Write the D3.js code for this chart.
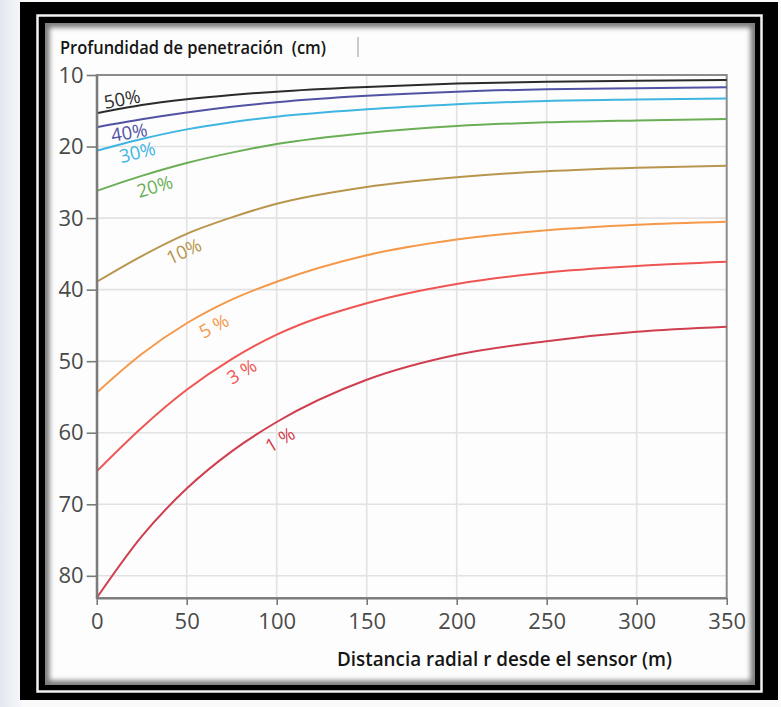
<!DOCTYPE html>
<html>
<head>
<meta charset="utf-8">
<script src="https://cdn.jsdelivr.net/npm/d3@7"></script>
<style>
	html, body { margin: 0; padding: 0; background: #fff; }
	svg { display: block; }
</style>
</head>
<body>
<svg id="chart" width="781" height="707"></svg>
<script>
'use strict';

// distancia radial r (m)
var distances = [0, 25, 50, 75, 100, 150, 200, 250, 300, 350];
// profundidad (cm) por contenido de humedad
var depth50 = [15.35, 14.2, 13.4, 12.8, 12.33, 11.68, 11.2, 10.93, 10.8, 10.7];
var depth40 = [17.3, 16.2, 15.25, 14.45, 13.8, 12.9, 12.33, 12.0, 11.85, 11.72];
var depth30 = [20.6, 18.95, 17.6, 16.6, 15.82, 14.8, 14.1, 13.62, 13.43, 13.3];
var depth20 = [26.2, 24.1, 22.3, 20.85, 19.65, 18.1, 17.13, 16.62, 16.35, 16.15];
var depth10 = [38.9, 35.3, 32.2, 29.9, 28.0, 25.65, 24.3, 23.45, 22.95, 22.67];
var depth5 = [54.4, 49.0, 44.7, 41.4, 38.9, 35.2, 33.0, 31.7, 30.93, 30.5];
var depth3 = [65.4, 59.3, 54.0, 49.7, 46.3, 41.9, 39.2, 37.6, 36.7, 36.1];
var depth1 = [83.1, 74.5, 67.8, 62.6, 58.5, 52.6, 49.1, 47.2, 45.9, 45.2];

var seriesNames = ['50%', '40%', '30%', '20%', '10%', '5 %', '3 %', '1 %'];
var seriesValues = [depth50, depth40, depth30, depth20, depth10, depth5, depth3, depth1];
// where along r each curve label sits (m)
var labelAt = [15, 17, 21, 30, 45, 61, 76, 97];

var xTicks = [0, 50, 100, 150, 200, 250, 300, 350];
var yTicks = [10, 20, 30, 40, 50, 60, 70, 80];

var colors = ['#2b2b2b', '#5252a4', '#3fb6e2', '#6aaf55', '#b8964e', '#f4994a', '#ef5552', '#cf3f50'];
// perpendicular label offset, px (negative = above the line)
var labelOffset = [-9, 11, 12, 14, 15, 16, 16, 17];

var svg = d3.select('#chart');
var defs = svg.append('defs');

// page background + double black frame
var bg = defs.append('linearGradient').attr('id', 'bg').attr('x1', 0).attr('x2', 1);
bg.append('stop').attr('offset', '0').attr('stop-color', '#e4e8ee');
bg.append('stop').attr('offset', '1').attr('stop-color', '#f6f7f9');
svg.append('rect').attr('width', 781).attr('height', 707).attr('fill', '#fafafa');
svg.append('rect').attr('width', 22).attr('height', 707).attr('fill', 'url(#bg)');

svg.append('rect')
	.attr('x', 20).attr('y', 2).attr('width', 758).attr('height', 698)
	.attr('fill', '#000');
svg.append('rect')
	.attr('x', 37.5).attr('y', 15.5).attr('width', 724).attr('height', 676)
	.attr('fill', 'none').attr('stroke', '#f2f2f2').attr('stroke-width', 2.5);

var blur = defs.append('filter').attr('id', 'blur');
blur.append('feGaussianBlur').attr('stdDeviation', 2.5);
defs.append('clipPath').attr('id', 'panelclip')
	.append('rect').attr('x', 45).attr('y', 23).attr('width', 710).attr('height', 662);

svg.append('rect')
	.attr('x', 45).attr('y', 23).attr('width', 710).attr('height', 662)
	.attr('fill', '#fdfdfd');
svg.append('g').attr('clip-path', 'url(#panelclip)')
	.append('rect')
		.attr('x', 45).attr('y', 23).attr('width', 710).attr('height', 662)
		.attr('fill', 'none').attr('stroke', '#7a7a7a').attr('stroke-width', 9)
		.attr('filter', 'url(#blur)');

// little title box edge
svg.append('line')
	.attr('x1', 358).attr('x2', 358).attr('y1', 37).attr('y2', 57)
	.attr('stroke', '#aaa').attr('stroke-width', 1.2);

var x = d3.scaleLinear().domain([0, 350]).range([96.7, 726.7]);
var y = d3.scaleLinear().domain([10, 83.1]).range([75, 598]);

// grid
var grid = svg.append('g');
grid.selectAll('line.vg').data(xTicks.slice(1, -1)).enter()
	.append('line')
		.attr('x1', function(d) { return x(d); })
		.attr('x2', function(d) { return x(d); })
		.attr('y1', y(10)).attr('y2', y(83.1))
		.attr('stroke', '#e2e2e2').attr('stroke-width', 1.6);
grid.selectAll('line.hg').data(yTicks.slice(1)).enter()
	.append('line')
		.attr('x1', x(0)).attr('x2', x(350))
		.attr('y1', function(d) { return y(d); })
		.attr('y2', function(d) { return y(d); })
		.attr('stroke', '#e2e2e2').attr('stroke-width', 1.6);

svg.append('rect')
	.attr('x', x(0)).attr('y', y(10))
	.attr('width', x(350) - x(0)).attr('height', y(83.1) - y(10))
	.attr('fill', 'none').attr('stroke', '#8c8c8c').attr('stroke-width', 2);

// curves
var line = d3.line()
	.x(function(d) { return x(d[0]); })
	.y(function(d) { return y(d[1]); })
	.curve(d3.curveMonotoneX);

var paths = svg.append('g').selectAll('path.curve')
	.data(seriesValues).enter()
	.append('path')
		.attr('class', 'curve')
		.attr('d', function(vals) {
			return line(distances.map(function(r, i) { return [r, vals[i]]; }));
		})
		.attr('fill', 'none')
		.attr('stroke', function(d, i) { return colors[i]; })
		.attr('stroke-width', 2);

// point on a path for a given screen x
function pointAt(node, px) {
	var lo = 0, hi = node.getTotalLength();
	for (var k = 0; k < 40; k++) {
		var mid = (lo + hi) / 2;
		if (node.getPointAtLength(mid).x < px) lo = mid; else hi = mid;
	}
	return node.getPointAtLength(lo);
}

paths.each(function(vals, i) {
	var px = x(labelAt[i]);
	var p = pointAt(this, px);
	var p0 = pointAt(this, px - 6), p1 = pointAt(this, px + 6);
	var ang = Math.atan2(p1.y - p0.y, p1.x - p0.x) * 180 / Math.PI;
	svg.append('text')
		.attr('transform', 'translate(' + p.x + ',' + p.y + ') rotate(' + ang + ')')
		.attr('y', labelOffset[i])
		.attr('dy', '0.35em')
		.attr('text-anchor', 'middle')
		.attr('font-family', '"Open Sans", sans-serif')
		.attr('font-size', 18.5)
		.attr('fill', colors[i])
		.text(seriesNames[i]);
});

// axes
var yAxis = svg.append('g')
	.attr('transform', 'translate(' + x(0) + ',0)')
	.call(d3.axisLeft(y).tickValues(yTicks).tickSize(10).tickPadding(3).tickSizeOuter(0));
var xAxis = svg.append('g')
	.attr('transform', 'translate(0,' + y(83.1) + ')')
	.call(d3.axisBottom(x).tickValues(xTicks).tickSize(7).tickPadding(8).tickSizeOuter(0));

[yAxis, xAxis].forEach(function(ax) {
	ax.select('.domain').attr('stroke', '#7a7a7a').attr('stroke-width', 2.2);
	ax.selectAll('.tick line').attr('stroke', '#7a7a7a').attr('stroke-width', 1.6);
	ax.selectAll('.tick text')
		.attr('font-family', '"Open Sans", sans-serif')
		.attr('font-size', 22)
		.attr('fill', '#4a4a4a');
});

// titles
svg.append('text')
	.attr('x', 60).attr('y', 53.5)
	.attr('font-family', '"Open Sans", sans-serif')
	.attr('font-weight', 600)
	.attr('font-size', 17.5)
	.attr('textLength', 266)
	.attr('lengthAdjust', 'spacingAndGlyphs')
	.attr('fill', '#151515')
	.style('white-space', 'pre')
	.text('Profundidad de penetración  (cm)');

svg.append('text')
	.attr('x', 337).attr('y', 666)
	.attr('font-family', '"Open Sans", sans-serif')
	.attr('font-weight', 600)
	.attr('font-size', 19.5)
	.attr('textLength', 335)
	.attr('lengthAdjust', 'spacingAndGlyphs')
	.attr('fill', '#151515')
	.text('Distancia radial r desde el sensor (m)');
</script>
</body>
</html>
